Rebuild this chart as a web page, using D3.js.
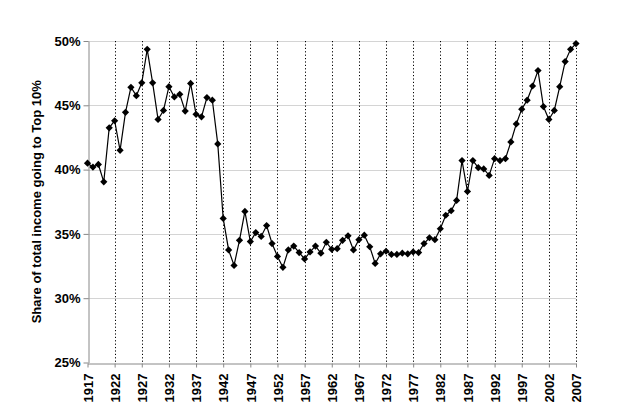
<!DOCTYPE html>
<html>
<head>
<meta charset="utf-8">
<script src="https://cdn.jsdelivr.net/npm/d3@7"></script>
<style>
    body { margin: 0; background: #fff; }
    svg { display: block; font-family: "Liberation Sans", Arial, sans-serif; }
    .grid line { stroke: #d4d4d4; stroke-width: 1; }
    .vgrid line { stroke: #000; stroke-width: 1; stroke-dasharray: 1.2, 2.2; }
    .axis path, .axis line { stroke: #888; }
    .axis text { font-size: 13px; font-weight: bold; fill: #000; }
</style>
</head>
<body>
<svg id="vis" width="640" height="406"></svg>
<script>
// top 10% share of total income, US, 1917-2007
const years = d3.range(1917, 2008);
const share = [
    40.5, 40.2, 40.4, 39.05, 43.25, 43.8, 41.5, 44.45, 46.4, 45.75,
    46.75, 49.35, 46.75, 43.9, 44.6, 46.45, 45.65, 45.85, 44.55, 46.7,
    44.3, 44.1, 45.6, 45.4, 42.0, 36.2, 33.75, 32.55, 34.5, 36.75,
    34.4, 35.1, 34.8, 35.65, 34.25, 33.25, 32.4, 33.75, 34.05, 33.55,
    33.05, 33.6, 34.05, 33.5, 34.35, 33.8, 33.85, 34.5, 34.85, 33.75,
    34.55, 34.9, 34.0, 32.7, 33.45, 33.65, 33.4, 33.4, 33.5, 33.45,
    33.6, 33.55, 34.25, 34.7, 34.55, 35.4, 36.45, 36.8, 37.6, 40.7,
    38.3, 40.7, 40.15, 40.05, 39.55, 40.85, 40.7, 40.85, 42.15, 43.55,
    44.7, 45.4, 46.5, 47.7, 44.9, 43.9, 44.6, 46.45, 48.4, 49.35,
    49.8
];
const xTicks = [1917, 1922, 1927, 1932, 1937, 1942, 1947, 1952, 1957, 1962,
    1967, 1972, 1977, 1982, 1987, 1992, 1997, 2002, 2007];
const yTicks = [25, 30, 35, 40, 45, 50];

const svg = d3.select('#vis');
const margin = {top: 41, right: 64, bottom: 43.5, left: 87.5};
const WIDTH = 640, HEIGHT = 406;

const x = d3.scaleLinear()
    .domain([1917, 2007])
    .range([margin.left, WIDTH - margin.right]);
const y = d3.scaleLinear()
    .domain([25, 50])
    .range([HEIGHT - margin.bottom, margin.top]);

// horizontal grid
svg.append("g")
    .attr("class", "grid")
    .selectAll("line")
    .data(yTicks.slice(1))
    .enter().append("line")
    .attr("x1", x(1917))
    .attr("x2", x(2007))
    .attr("y1", d => Math.round(y(d)) + 0.5)
    .attr("y2", d => Math.round(y(d)) + 0.5);

// dotted verticals
svg.append("g")
    .attr("class", "vgrid")
    .selectAll("line")
    .data(xTicks.slice(1))
    .enter().append("line")
    .attr("x1", d => Math.round(x(d)) + 0.5)
    .attr("x2", d => Math.round(x(d)) + 0.5)
    .attr("y1", y(50))
    .attr("y2", y(25));

// y axis
svg.append("g")
    .attr("class", "axis")
    .attr("transform", "translate(" + (Math.round(x(1917)) + 0.5) + ",0)")
    .call(d3.axisLeft(y).tickValues(yTicks).tickSize(5).tickSizeOuter(0)
        .tickFormat(d => d + "%"))
    .call(g => g.selectAll("text").attr("x", -8));

// x axis
const xAxis = svg.append("g")
    .attr("class", "axis")
    .attr("transform", "translate(0," + (Math.round(y(25)) + 0.5) + ")")
    .call(d3.axisBottom(x).tickValues(xTicks).tickSize(4).tickSizeOuter(0)
        .tickFormat(d3.format("d")));

xAxis.selectAll("text")
    .attr("text-anchor", "end")
    .attr("transform", "translate(0,10) rotate(-90)")
    .attr("x", 0)
    .attr("y", 0)
    .attr("dy", "0.36em");

// y title
svg.append("text")
    .attr("transform", "translate(41," + ((y(25) + y(50)) / 2) + ") rotate(-90)")
    .attr("text-anchor", "middle")
    .style("font-size", "13px")
    .style("font-weight", "bold")
    .text("Share of total income going to Top 10%");

// series line
const line = d3.line()
    .x((d, i) => x(years[i]))
    .y(d => y(d));

svg.append("path")
    .datum(share)
    .attr("fill", "none")
    .attr("stroke", "#000")
    .attr("stroke-width", 1.2)
    .attr("d", line);

// diamond markers
svg.append("g")
    .selectAll("path")
    .data(share)
    .enter().append("path")
    .attr("d", d3.symbol(d3.symbolSquare, 26))
    .attr("transform", (d, i) => "translate(" + x(years[i]) + "," + y(d) + ") rotate(45)")
    .attr("fill", "#000");
</script>
</body>
</html>
